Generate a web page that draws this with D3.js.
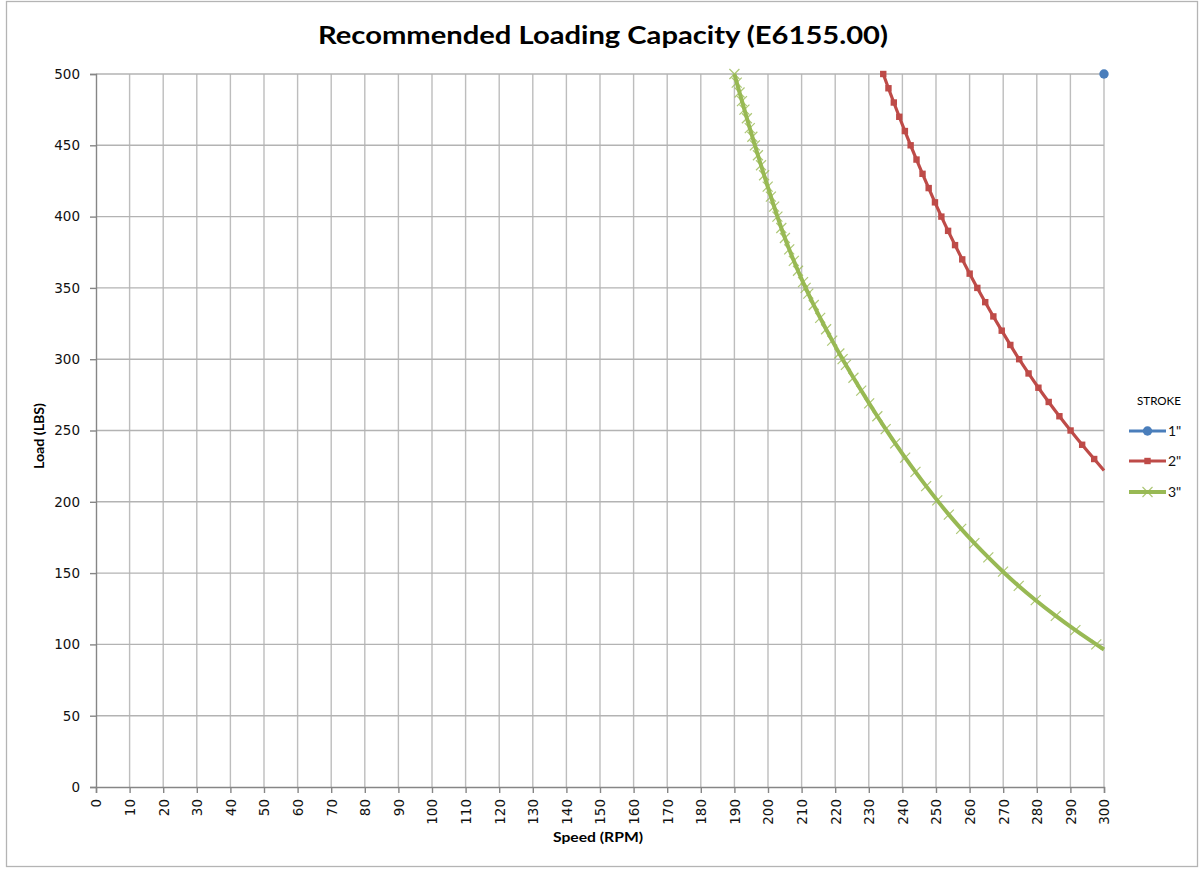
<!DOCTYPE html>
<html>
<head>
<meta charset="utf-8">
<script src="https://cdn.jsdelivr.net/npm/d3@7"></script>
<style>
  html, body { margin: 0; padding: 0; background: #fff; }
  svg { display: block; }
</style>
</head>
<body>
<svg id="chart" width="1199" height="869"></svg>
<script>
// values
const seriesNames = ['1"', '2"', '3"'];
const seriesColors = ['#4a7ebb', '#be4b48', '#98b954'];

// stroke 1" : a single point
const stroke1Speed = [300];
const stroke1Load = [500];

// stroke 2"
const stroke2Speed = [234.3, 235.85, 237.44, 239.07, 240.74, 242.45, 244.2, 245.99, 247.82, 249.69,
  251.6, 253.6, 255.67, 257.81, 260.02, 262.3, 264.65, 267.07, 269.56, 272.12,
  274.75, 277.55, 280.48, 283.54, 286.73, 290.05, 293.5, 297.08, 300];
const stroke2Load = [500, 490, 480, 470, 460, 450, 440, 430, 420, 410,
  400, 390, 380, 370, 360, 350, 340, 330, 320, 310,
  300, 290, 280, 270, 260, 250, 240, 230, 222];

// stroke 3"
const stroke3Speed = [190.0, 190.7, 191.53, 192.25, 192.98, 193.71, 194.58, 195.34, 196.1,
  197.0, 197.92, 198.84, 199.91, 200.86, 201.83, 202.8,
  203.96, 205.03, 206.32, 207.68, 208.93, 210.43, 211.2,
  211.99, 213.62, 215.53, 217.29, 219.11, 221.23, 222.2,
  223.18, 225.43, 227.74, 230.11, 232.54, 235.02,
  237.87, 240.82, 243.89, 247.07, 250.37,
  253.82, 257.5, 261.42, 265.57, 269.95,
  274.62, 279.67, 285.65, 291.49, 297.7, 300];
const stroke3Load = [500, 494, 487, 481, 475, 469, 462, 456, 450,
  443, 436, 429, 421, 414, 407, 400,
  392, 385, 377, 369, 362, 354, 350,
  346, 338, 329, 321, 313, 304, 300,
  296, 287, 278, 269, 260, 251,
  241, 231, 221, 211, 201,
  191, 181, 171, 161, 151,
  141, 131, 120, 110, 100, 96.4];

const xTickValues = [0, 10, 20, 30, 40, 50, 60, 70, 80, 90, 100, 110, 120, 130, 140, 150,
  160, 170, 180, 190, 200, 210, 220, 230, 240, 250, 260, 270, 280, 290, 300];
const yTickValues = [0, 50, 100, 150, 200, 250, 300, 350, 400, 450, 500];

const titleText = 'Recommended Loading Capacity (E6155.00)';
const xTitle = 'Speed (RPM)';
const yTitle = 'Load (LBS)';
const legendTitle = 'STROKE';

/* layout */
const plot = { left: 96, right: 1104, top: 74, bottom: 787 };
const tickFont = '"DejaVu Sans", Verdana, sans-serif';
const labelFont = 'Lato, "Open Sans", sans-serif';

const svg = d3.select('#chart');

// outer chart frame
svg.append('rect')
  .attr('x', 6.5).attr('y', 1.5)
  .attr('width', 1191).attr('height', 865)
  .attr('fill', '#fff')
  .attr('stroke', '#b4b4b4')
  .attr('stroke-width', 1.3);

const x = d3.scaleLinear().domain([0, 300]).range([plot.left, plot.right]);
const y = d3.scaleLinear().domain([0, 500]).range([plot.bottom, plot.top]);

// gridlines
const grid = svg.append('g').attr('class', 'grid');
grid.selectAll('.vgrid')
  .data(xTickValues.filter(d => d > 0))
  .enter().append('line')
    .attr('x1', d => x(d)).attr('x2', d => x(d))
    .attr('y1', plot.top).attr('y2', plot.bottom)
    .attr('stroke', '#bdbdbd').attr('stroke-width', 1.4);
grid.selectAll('.hgrid')
  .data(yTickValues.filter(d => d > 0))
  .enter().append('line')
    .attr('x1', plot.left).attr('x2', plot.right)
    .attr('y1', d => y(d)).attr('y2', d => y(d))
    .attr('stroke', '#b3b3b3').attr('stroke-width', 1.4);

// y axis
const yAxis = svg.append('g')
  .attr('transform', 'translate(' + plot.left + ',0)')
  .call(d3.axisLeft(y).tickValues(yTickValues).tickSize(6).tickPadding(10));
yAxis.select('.domain').attr('stroke', '#868686').attr('stroke-width', 1.4);
yAxis.selectAll('.tick line').attr('stroke', '#868686').attr('stroke-width', 1.4);
yAxis.selectAll('.tick text')
  .attr('fill', '#111')
  .style('font-family', tickFont)
  .style('font-size', '13.5px');

// x axis with rotated labels
const xAxis = svg.append('g')
  .attr('transform', 'translate(0,' + plot.bottom + ')')
  .call(d3.axisBottom(x).tickValues(xTickValues).tickSize(6));
xAxis.select('.domain').attr('stroke', '#868686').attr('stroke-width', 1.4);
xAxis.selectAll('.tick line').attr('stroke', '#868686').attr('stroke-width', 1.4);
xAxis.selectAll('.tick text')
  .attr('transform', 'rotate(-90)')
  .attr('text-anchor', 'end')
  .attr('x', -12)
  .attr('y', 0)
  .attr('dy', '0.36em')
  .attr('fill', '#111')
  .style('font-family', tickFont)
  .style('font-size', '13.5px');

// titles
svg.append('text')
  .attr('x', 603).attr('y', 44)
  .attr('text-anchor', 'middle')
  .attr('textLength', 570)
  .attr('lengthAdjust', 'spacingAndGlyphs')
  .style('font-family', labelFont)
  .style('font-weight', 'bold')
  .style('font-size', '25px')
  .text(titleText);

svg.append('text')
  .attr('x', 598).attr('y', 842)
  .attr('text-anchor', 'middle')
  .attr('textLength', 90)
  .attr('lengthAdjust', 'spacingAndGlyphs')
  .style('font-family', labelFont)
  .style('font-weight', 'bold')
  .style('font-size', '13px')
  .text(xTitle);

svg.append('text')
  .attr('transform', 'translate(44,436) rotate(-90)')
  .attr('text-anchor', 'middle')
  .attr('textLength', 66)
  .attr('lengthAdjust', 'spacingAndGlyphs')
  .style('font-family', labelFont)
  .style('font-weight', 'bold')
  .style('font-size', '13px')
  .text(yTitle);

// series
const series = [
  { name: seriesNames[0], color: seriesColors[0], marker: 'circle',
    points: stroke1Speed.map((s, i) => ({ speed: s, load: stroke1Load[i] })) },
  { name: seriesNames[1], color: seriesColors[1], marker: 'square',
    points: stroke2Speed.map((s, i) => ({ speed: s, load: stroke2Load[i] })) },
  { name: seriesNames[2], color: seriesColors[2], marker: 'cross',
    points: stroke3Speed.map((s, i) => ({ speed: s, load: stroke3Load[i] })) }
];

const line = d3.line()
  .x(d => x(d.speed))
  .y(d => y(d.load))
  .curve(d3.curveMonotoneX);

function drawMarker(sel, type, color) {
  if (type === 'circle') {
    sel.append('circle').attr('r', 4.7).attr('fill', color);
  } else if (type === 'square') {
    sel.append('rect')
      .attr('x', -3.2).attr('y', -3.2).attr('width', 6.4).attr('height', 6.4)
      .attr('fill', color);
  } else {
    sel.append('path')
      .attr('d', 'M-5,-5L5,5M-5,5L5,-5')
      .attr('stroke', color).attr('stroke-width', 1.2)
      .attr('stroke-opacity', 0.8)
      .attr('fill', 'none');
  }
}

const seriesG = svg.append('g').attr('class', 'series');
series.forEach(s => {
  if (s.points.length > 1) {
    seriesG.append('path')
      .datum(s.points)
      .attr('d', line)
      .attr('fill', 'none')
      .attr('stroke', s.color)
      .attr('stroke-width', s.marker === 'cross' ? 4 : 3.2)
      .attr('stroke-linejoin', 'round');
  }
  // no marker on the end points clipped at 300 rpm for strokes 2" and 3"
  seriesG.selectAll('.m-' + s.marker)
    .data(s.points.filter((d, i) => s.points.length === 1 || i < s.points.length - 1))
    .enter().append('g')
      .attr('class', 'm-' + s.marker)
      .attr('transform', d => 'translate(' + x(d.speed) + ',' + y(d.load) + ')')
      .each(function () { drawMarker(d3.select(this), s.marker, s.color); });
});

// legend
const legend = svg.append('g').attr('transform', 'translate(1129,0)');
legend.append('text')
  .attr('x', 30).attr('y', 405)
  .attr('text-anchor', 'middle')
  .attr('textLength', 44)
  .attr('lengthAdjust', 'spacingAndGlyphs')
  .style('font-family', labelFont)
  .style('font-size', '11.5px')
  .text(legendTitle);

const legendY = [431, 461, 492];
series.forEach((s, i) => {
  const g = legend.append('g').attr('transform', 'translate(0,' + legendY[i] + ')');
  g.append('line')
    .attr('x1', 0).attr('x2', 37)
    .attr('stroke', s.color)
    .attr('stroke-width', s.marker === 'cross' ? 4 : 3.2);
  drawMarker(g.append('g').attr('transform', 'translate(18.5,0)'), s.marker, s.color);
  g.append('text')
    .attr('x', 39).attr('y', 5)
    .style('font-family', labelFont)
    .style('font-size', '14px')
    .attr('fill', '#111')
    .text(s.name);
});
</script>
</body>
</html>
